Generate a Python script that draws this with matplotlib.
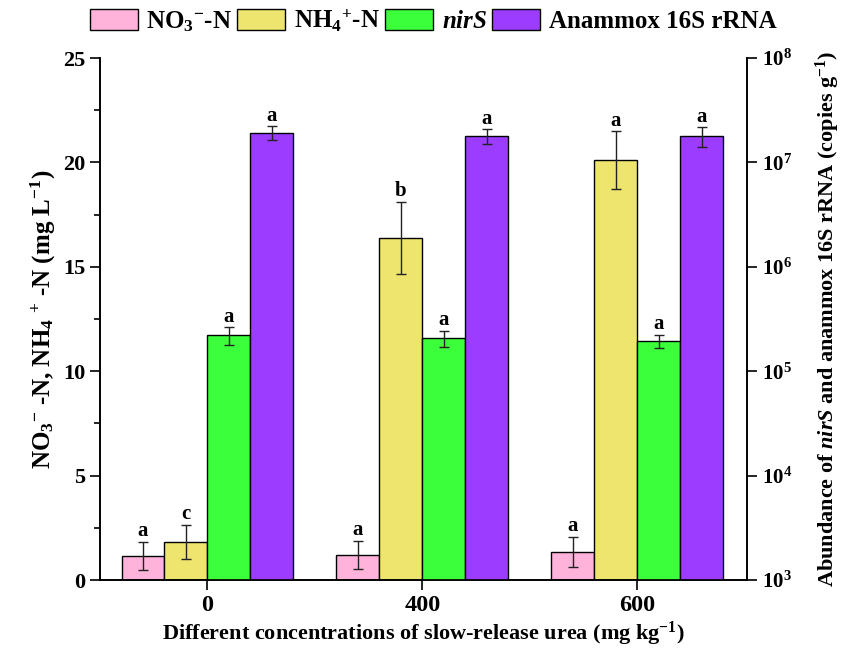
import numpy as np
import matplotlib
matplotlib.use("Agg")
import matplotlib.pyplot as plt
from matplotlib.ticker import FixedLocator, MultipleLocator, FuncFormatter

plt.rcParams["font.family"] = "Liberation Serif"
plt.rcParams["font.weight"] = "bold"
plt.rcParams["mathtext.fontset"] = "custom"
plt.rcParams["mathtext.rm"] = "Liberation Serif:bold"
plt.rcParams["mathtext.bf"] = "Liberation Serif:bold"
plt.rcParams["mathtext.it"] = "Liberation Serif:bold:italic"
plt.rcParams["mathtext.default"] = "rm"

# data
groups = ["0", "400", "600"]
no3 = [1.16, 1.20, 1.33]
no3_err = [0.68, 0.68, 0.73]
nh4 = [1.83, 16.39, 20.11]
nh4_err = [0.82, 1.73, 1.38]
nirs = [2.21e5, 2.08e5, 1.96e5]
nirs_err = [0.42e5, 0.36e5, 0.28e5]
amx = [1.93e7, 1.79e7, 1.79e7]
amx_err = [0.29e7, 0.29e7, 0.38e7]

no3_lab = ["a", "a", "a"]
nh4_lab = ["c", "b", "a"]
nirs_lab = ["a", "a", "a"]
amx_lab = ["a", "a", "a"]

colors = ["#FFB3DA", "#EDE56E", "#3CFF3C", "#9B3CFF"]
names = [r"NO$_3$$^{-}$-N", r"NH$_4$$^{+}$-N", r"$\mathit{nirS}$", "Anammox 16S rRNA"]

x = np.arange(len(groups))
w = 0.2

fig = plt.figure(figsize=(8.49, 6.49), dpi=100)
ax = fig.add_axes([0.1178, 0.1063, 0.7621, 0.8043])
ax2 = ax.twinx()

ekw = dict(ecolor="#222222", elinewidth=1, capsize=3.8, capthick=1)

series = [
    (ax, x - 1.5 * w, no3, no3_err, no3_lab, colors[0], names[0]),
    (ax, x - 0.5 * w, nh4, nh4_err, nh4_lab, colors[1], names[1]),
    (ax2, x + 0.5 * w, nirs, nirs_err, nirs_lab, colors[2], names[2]),
    (ax2, x + 1.5 * w, amx, amx_err, amx_lab, colors[3], names[3]),
]

handles = []
for a, pos, vals, errs, labs, col, nm in series:
    bottom = 1e3 if a is ax2 else 0
    vals = np.array(vals)
    errs = np.array(errs)
    b = a.bar(pos, vals - bottom, w, bottom=bottom, color=col, edgecolor="black",
              linewidth=1, yerr=errs, error_kw=ekw, label=nm)
    handles.append(b)
    for px, v, e, lb in zip(pos, vals, errs, labs):
        a.annotate(lb, (px, v + e), xytext=(0, 0.5), textcoords="offset points",
                   ha="center", va="bottom", fontsize=15, fontweight="bold")

ax.set_xlim(-0.5, 2.51)
ax.set_ylim(0, 25)
ax2.set_yscale("log")
ax2.set_ylim(1e3, 1e8)

ax.set_xticks(x)
ax.set_xticklabels(groups)
ax.yaxis.set_major_locator(MultipleLocator(5))
ax.yaxis.set_minor_locator(MultipleLocator(2.5))
ax2.yaxis.set_major_locator(FixedLocator([1e3, 1e4, 1e5, 1e6, 1e7, 1e8]))
ax2.yaxis.set_minor_locator(FixedLocator([]))
ax2.yaxis.set_major_formatter(FuncFormatter(lambda v, p: r"$10^{%d}$" % round(np.log10(v))))

for a in (ax, ax2):
    a.spines["top"].set_visible(False)
    for s in a.spines.values():
        s.set_linewidth(1.2)
    a.tick_params(axis="both", which="major", direction="out", length=7, width=1.2, labelsize=15)
    a.tick_params(axis="both", which="minor", direction="out", length=4, width=1.2)
ax.tick_params(axis="x", labelsize=17.5)
ax.tick_params(axis="y", labelsize=16)

ax.set_xlabel(r"Different concentrations of slow-release urea (mg kg$^{-1}$)", fontsize=16,
              fontweight="bold", labelpad=3)
ax.set_ylabel(r"NO$_3$$^{-}$ -N, NH$_4$ $^{+}$ -N (mg L$^{-1}$)", fontsize=18,
              fontweight="bold", labelpad=4)
ax2.set_ylabel(r"Abundance of $\mathit{nirS}$ and anammox 16S rRNA (copies g$^{-1}$)",
               fontsize=16, fontweight="bold", labelpad=16)

fig.legend(handles=handles, labels=names, loc="upper center", bbox_to_anchor=(0.51, 1.012),
           ncol=4, frameon=False, fontsize=18, handlelength=1.92, handleheight=0.88,
           handletextpad=0.35, columnspacing=0.2, borderaxespad=0.2)

fig.savefig("out.png", dpi=100)
